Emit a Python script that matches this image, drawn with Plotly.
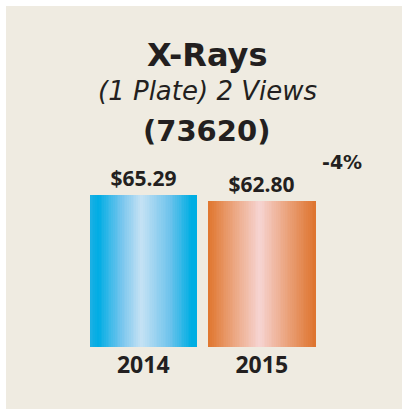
import plotly.graph_objects as go

# ---- data ----
years = ["2014", "2015"]
prices = [65.29, 62.80]
change_label = "-4%"
title_line1 = "X-Rays"
title_line2 = "(1 Plate) 2 Views"
title_line3 = "(73620)"

# ---- style ----
INK = "#231f20"
BG = "#efebe1"
BAR_W = 0.9
N_SLICES = 60
blue_stops = [(0.0, (30, 176, 228)), (0.08, (0, 173, 228)), (0.3, (120, 198, 238)),
              (0.48, (198, 226, 244)), (0.75, (110, 195, 236)), (0.95, (0, 174, 227)), (1.0, (0, 174, 227))]
orange_stops = [(0.0, (224, 118, 46)), (0.25, (236, 168, 132)), (0.48, (246, 212, 210)),
                (0.75, (234, 160, 120)), (1.0, (222, 116, 46))]


def interp(stops, t):
    for (t0, c0), (t1, c1) in zip(stops[:-1], stops[1:]):
        if t0 <= t <= t1:
            f = 0 if t1 == t0 else (t - t0) / (t1 - t0)
            c = [round(a + (b - a) * f) for a, b in zip(c0, c1)]
            return "rgb(%d,%d,%d)" % tuple(c)
    return "rgb(%d,%d,%d)" % stops[-1][1]


fig = go.Figure()

# base bar carrying the value labels
fig.add_trace(go.Bar(
    x=years, y=prices, width=BAR_W,
    marker=dict(color=[interp(blue_stops, 0.5), interp(orange_stops, 0.5)], line=dict(width=0)),
    texttemplate="$%{y:.2f}", textposition="outside", constraintext="none", cliponaxis=False,
    textfont=dict(family="Open Sans", size=21, color=INK, weight="bold"),
    hoverinfo="skip", showlegend=False,
))

# gradient slices
sw = BAR_W / N_SLICES
for i in range(N_SLICES):
    t = (i + 0.5) / N_SLICES
    fig.add_trace(go.Bar(
        x=years, y=prices, width=sw * 1.4, offset=-BAR_W / 2 + i * sw,
        marker=dict(color=[interp(blue_stops, t), interp(orange_stops, t)], line=dict(width=0)),
        hoverinfo="skip", showlegend=False,
    ))

W, H = 402, 409
ML, MR, MT, MB = 84, 81, 114, 62
plot_h = H - MT - MB


def py(p):  # pixel y -> paper y
    return (H - MB - p) / plot_h


def px(p):
    return (p - ML) / (W - ML - MR)


fig.update_layout(
    width=W, height=H,
    margin=dict(l=ML, r=MR, t=MT, b=MB, pad=0),
    paper_bgcolor="white", plot_bgcolor="rgba(0,0,0,0)",
    barmode="overlay", bargap=0,
    xaxis=dict(type="category", range=[-0.5, 1.5], showgrid=False, zeroline=False, showline=False,
               ticks="", tickfont=dict(family="Open Sans", size=23, color=INK, weight="bold"),
               ticklabelstandoff=2),
    yaxis=dict(range=[0, 100], visible=False, showgrid=False, zeroline=False),
    shapes=[dict(type="rect", xref="paper", yref="paper", layer="below",
                 x0=px(6), x1=px(402), y0=py(409), y1=py(6), fillcolor=BG, line=dict(width=0))],
    annotations=[
        dict(text=title_line1, xref="paper", yref="paper", x=px(207), y=py(55.3), showarrow=False,
             xanchor="center", yanchor="middle",
             font=dict(family="DejaVu Sans", size=32, color=INK, weight="bold")),
        dict(text="<i>" + title_line2 + "</i>", xref="paper", yref="paper", x=px(207.5), y=py(91.0),
             showarrow=False, xanchor="center", yanchor="middle",
             font=dict(family="DejaVu Sans", size=26, color=INK)),
        dict(text=title_line3, xref="paper", yref="paper", x=px(206.5), y=py(130.5), showarrow=False,
             xanchor="center", yanchor="middle",
             font=dict(family="DejaVu Sans", size=29, color=INK, weight="bold")),
        dict(text=change_label, xref="paper", yref="paper", x=px(341.5), y=py(162.0), showarrow=False,
             xanchor="center", yanchor="middle",
             font=dict(family="DejaVu Sans", size=19, color=INK, weight="bold")),
    ],
)

fig.write_html("out.html", config={"displayModeBar": False},
               post_script="document.body.style.margin='0';")
